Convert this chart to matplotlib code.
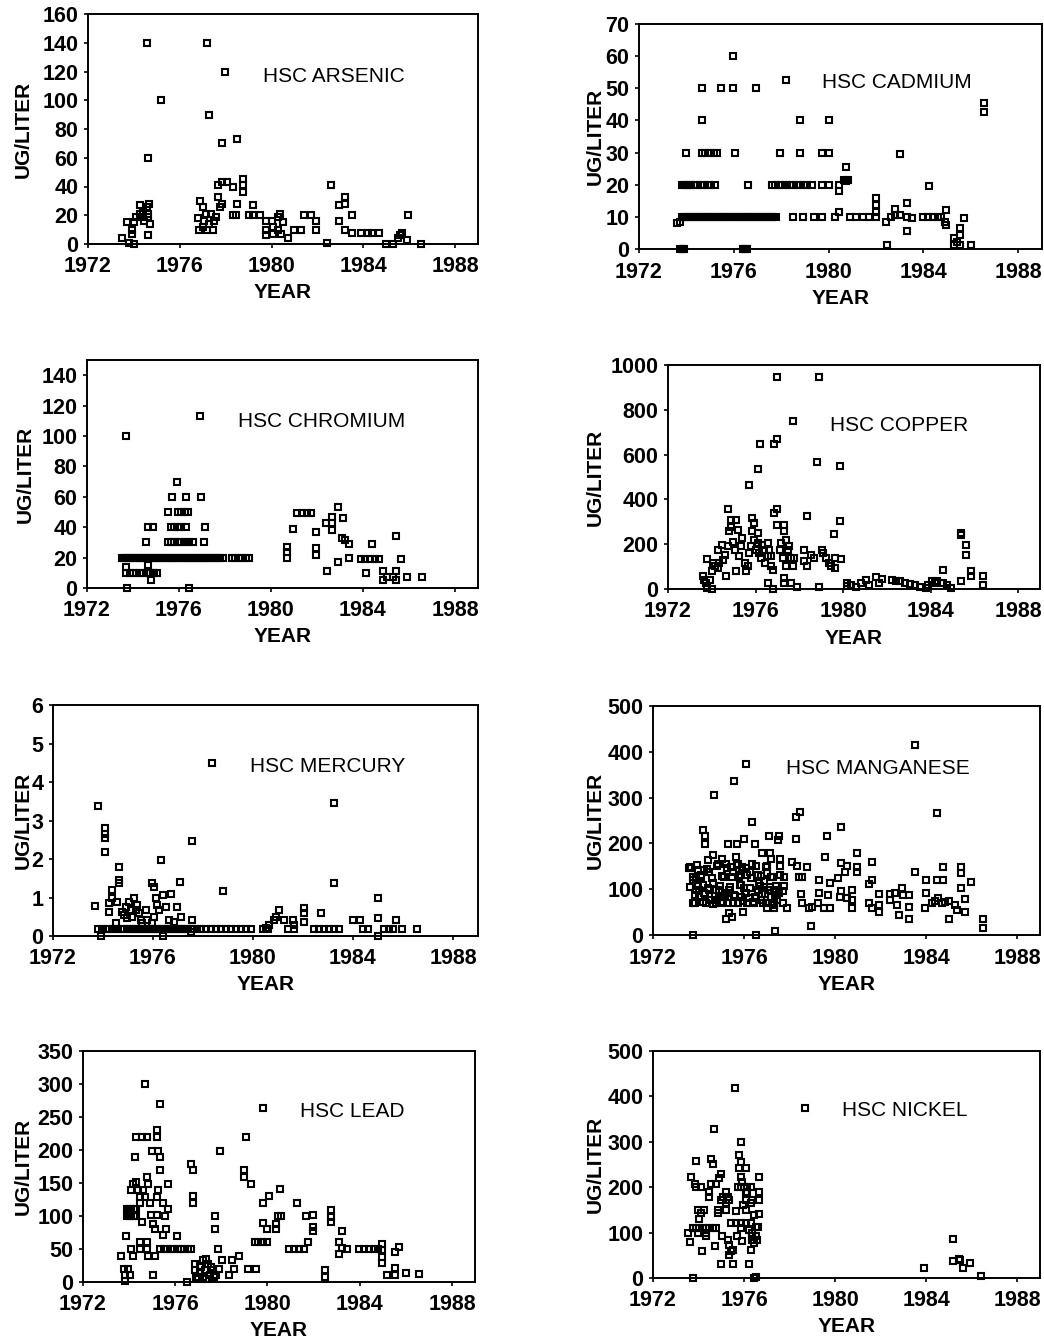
import matplotlib
matplotlib.use("Agg")
import matplotlib.pyplot as plt

plt.rcParams['font.family'] = ['Liberation Sans', 'DejaVu Sans']

# ---------------- data (year, ug/liter) ----------------
ars_year = [1974.55, 1974.6, 1975.2, 1974.6, 1973.5, 1973.7, 1973.9, 1974.0, 1973.8, 1973.9, 1974.0, 1974.25, 1974.3,
            1974.4, 1974.55, 1974.65, 1974.6, 1974.7, 1974.45, 1974.1, 1974.25, 1974.6,
            1977.2, 1977.27, 1977.95, 1977.85, 1978.5,
            1976.8, 1976.85, 1976.9, 1977.0, 1977.0, 1977.05, 1977.15, 1977.2, 1977.27, 1977.35,
            1977.45, 1977.5, 1977.6, 1977.65, 1977.75, 1977.85, 1977.65, 1977.85, 1978.05, 1978.3,
            1978.5, 1978.3, 1978.45, 1978.75, 1978.75, 1978.75, 1979.0, 1979.2, 1979.2, 1979.5,
            1979.75, 1979.75, 1979.75, 1980.0, 1980.05, 1980.05, 1980.3, 1980.35, 1980.5, 1980.4,
            1980.3, 1980.7, 1981.0, 1981.3, 1981.4, 1981.7, 1981.95, 1981.95, 1982.4, 1982.6,
            1982.95, 1983.2, 1983.2, 1982.95, 1983.2, 1983.5, 1983.5, 1983.9, 1984.2, 1984.4,
            1984.7, 1985.0, 1985.3, 1985.5, 1985.6, 1985.7, 1985.9, 1985.95, 1986.5]
ars_ugl = [140, 60, 100, 6.5, 4, 15, 10, 0, 1, 7, 15, 27, 19,
           22, 26, 28, 19, 14, 16, 19, 21, 21,
           140, 90, 120, 70, 73,
           18, 10, 30, 26, 12, 16, 21, 10, 14, 21,
           10, 16, 19, 33, 26, 28, 41, 43, 43, 40,
           28, 20, 20, 45, 41, 36, 20, 27, 20, 20,
           16, 10, 6, 16, 12, 7, 19, 21, 15, 7,
           10, 4, 10, 10, 20, 20, 16, 10, 1, 41,
           27, 33, 28, 16, 10, 20, 8, 8, 8, 8,
           8, 0, 0, 4, 6, 8, 3, 20, 0]

cad_year = [1973.75, 1973.8, 1973.85, 1973.9, 1976.4, 1976.45, 1976.5, 1976.55,
            1973.6, 1973.75,
            1973.8, 1973.9, 1974.0, 1974.1, 1974.2, 1974.3, 1974.4, 1974.5, 1974.6, 1974.7,
            1974.8, 1974.9, 1975.0, 1975.1, 1975.2, 1975.3, 1975.4, 1975.5, 1975.6, 1975.7,
            1975.8, 1975.9, 1976.0, 1976.1, 1976.2, 1976.3, 1976.4, 1976.5, 1976.6, 1976.7,
            1976.8, 1976.9, 1977.0, 1977.1, 1977.2, 1977.3, 1977.4, 1977.5, 1977.6, 1977.7, 1977.8,
            1978.5, 1978.9, 1979.4, 1979.7, 1980.25, 1980.45, 1980.9, 1981.15, 1981.45, 1981.7,
            1982.4, 1982.65, 1982.8, 1982.8, 1983.0, 1983.3, 1983.5, 1984.0, 1984.2, 1984.4,
            1984.6, 1984.75, 1984.9, 1984.95, 1984.95, 1982.0, 1982.0, 1982.0, 1982.0, 1983.3,
            1983.3, 1982.45,
            1973.8, 1973.9, 1974.0, 1974.1, 1974.2, 1974.3, 1974.45, 1974.6, 1974.75, 1974.9,
            1975.05, 1975.2, 1976.6,
            1977.6, 1977.75, 1977.9, 1978.05, 1978.2, 1978.35, 1978.5, 1978.65, 1978.8, 1978.95,
            1979.1, 1979.3, 1979.7, 1980.0, 1980.45, 1980.45, 1980.65, 1980.75, 1980.8, 1980.75, 1984.25,
            1974.0, 1974.65, 1974.8, 1974.95, 1975.15, 1975.3, 1976.05, 1977.95, 1978.8, 1979.7,
            1980.0, 1983.0,
            1974.65, 1978.8, 1980.0,
            1974.65, 1975.45, 1975.97, 1976.95, 1978.2,
            1975.97, 1986.55, 1986.55,
            1985.3, 1985.3, 1985.55, 1985.55, 1985.55, 1985.7, 1986.0, 1985.4]
cad_ugl = [0, 0, 0, 0, 0, 0, 0, 0,
           8, 8.5,
           10, 10, 10, 10, 10, 10, 10, 10, 10, 10,
           10, 10, 10, 10, 10, 10, 10, 10, 10, 10,
           10, 10, 10, 10, 10, 10, 10, 10, 10, 10,
           10, 10, 10, 10, 10, 10, 10, 10, 10, 10, 10,
           10, 10, 10, 10, 10, 11.6, 10, 10, 10, 10,
           8.5, 10, 12.5, 10.5, 10.5, 10, 9.5, 10, 10, 10,
           10, 10, 8.5, 7.5, 12, 15.8, 13.7, 11.6, 10, 14.4,
           5.6, 1.2,
           20, 20, 20, 20, 20, 20, 20, 20, 20, 20,
           20, 20, 20,
           20, 20, 20, 20, 20, 20, 20, 20, 20, 20,
           20, 20, 20, 20, 20, 18, 21.5, 21, 21.5, 25.6, 19.6,
           30, 30, 30, 30, 30, 30, 30, 30, 30, 30,
           30, 29.5,
           40, 40, 40,
           50, 50, 50, 50, 52.5,
           60, 45.5, 42.7,
           3.3, 1.2, 6.4, 4.4, 1.2, 9.5, 1.2, 2.3]

chr_year = [1973.7, 1976.9, 1973.75, 1976.43,
            1973.5, 1973.6, 1973.7, 1973.8, 1973.9, 1974.0, 1974.1, 1974.2, 1974.3, 1974.4,
            1974.5, 1974.6, 1974.7, 1974.8, 1974.9, 1975.0, 1975.1, 1975.2, 1975.3, 1975.4,
            1975.5, 1975.6, 1975.7, 1975.8, 1975.9, 1976.0, 1976.1, 1976.2, 1976.3, 1976.4,
            1976.5, 1976.6, 1976.7, 1976.8, 1976.9, 1977.0, 1977.1, 1977.2, 1977.3, 1977.4,
            1977.5, 1977.6, 1977.7, 1977.8, 1977.9, 1978.3, 1978.45, 1978.6, 1978.75, 1978.9, 1979.05,
            1973.7, 1973.85, 1974.0, 1974.15, 1974.3, 1974.45, 1974.6, 1974.75, 1974.9, 1975.05,
            1973.7, 1974.65, 1974.8, 1974.85,
            1974.58, 1975.5, 1975.65, 1975.8, 1975.95, 1976.1, 1976.25, 1976.45, 1976.6, 1977.1,
            1974.65, 1974.85, 1975.65, 1975.8, 1975.95, 1976.1, 1976.3, 1977.15,
            1975.5, 1975.95, 1976.1, 1976.25, 1976.4,
            1975.7, 1976.3, 1976.95, 1975.9,
            1980.7, 1980.7, 1980.7, 1980.95, 1981.15, 1981.35, 1981.55, 1981.75, 1981.95, 1981.95,
            1981.95, 1982.45, 1982.4, 1982.65, 1982.65, 1982.65, 1982.93, 1982.93, 1983.15, 1983.1,
            1983.2, 1983.4, 1983.4, 1983.9, 1984.1, 1984.3, 1984.5, 1984.7, 1984.15, 1984.4,
            1984.85, 1984.85, 1985.05, 1985.3, 1985.45, 1985.45, 1985.45, 1985.65, 1985.9, 1986.55]
chr_ugl = [100, 113, 0, 0,
           20, 20, 20, 20, 20, 20, 20, 20, 20, 20,
           20, 20, 20, 20, 20, 20, 20, 20, 20, 20,
           20, 20, 20, 20, 20, 20, 20, 20, 20, 20,
           20, 20, 20, 20, 20, 20, 20, 20, 20, 20,
           20, 20, 20, 20, 20, 20, 20, 20, 20, 20, 20,
           10, 10, 10, 10, 10, 10, 10, 10, 10, 10,
           14, 15, 5, 10,
           30, 30, 30, 30, 30, 30, 30, 30, 30, 30,
           40, 40, 40, 40, 40, 40, 40, 40,
           50, 50, 50, 50, 50,
           60, 60, 60, 70,
           27, 24, 19.5, 39, 49.5, 49.5, 49.5, 49.5, 37, 26,
           22, 11, 42.5, 47, 38, 42.5, 53.5, 17, 46, 32.6,
           31.5, 29, 19.5, 19, 19, 19, 19, 19, 9.6, 29,
           11, 5, 7.5, 7.5, 11, 5, 34, 19, 7.5, 7.5]

cop_year = [1977.0, 1978.9, 1977.7, 1976.2, 1976.85, 1977.0, 1976.1, 1975.7, 1978.8, 1979.85,
            1979.85, 1979.6, 1978.35, 1974.75, 1977.0, 1976.85, 1985.4, 1985.4, 1985.6, 1985.6,
            1985.85, 1985.85, 1986.4, 1986.4, 1985.4, 1984.55,
            1973.6, 1973.65, 1973.75, 1973.8, 1974.0, 1973.9, 1973.8, 1974.0, 1974.05, 1974.15,
            1974.3, 1974.35, 1974.3, 1974.45, 1974.5, 1974.6, 1974.65, 1974.75, 1974.8, 1974.9,
            1974.9, 1974.95, 1975.05, 1975.1, 1975.2, 1975.1, 1975.25, 1975.35, 1975.4, 1975.5,
            1975.55, 1975.65, 1975.7, 1975.8, 1975.85, 1975.95, 1975.85, 1975.95, 1976.0, 1976.1,
            1976.1, 1976.15, 1976.25, 1976.3, 1976.4, 1976.45, 1976.55, 1976.55, 1976.6, 1976.7,
            1976.8, 1976.7, 1976.55, 1976.8, 1977.0, 1977.1, 1977.15, 1977.25, 1977.3, 1977.3,
            1977.4, 1977.4, 1977.5, 1977.55, 1977.6, 1977.7, 1977.75, 1977.3, 1977.3, 1977.6,
            1977.9, 1978.2, 1978.2, 1978.35, 1978.55, 1978.65, 1978.9, 1979.05, 1979.1, 1979.2,
            1979.35, 1979.45, 1979.65, 1979.9, 1979.65, 1980.2, 1980.2, 1980.35, 1980.6, 1980.8,
            1981.05, 1981.2, 1981.5, 1981.65, 1981.8, 1982.25, 1982.4, 1982.6, 1982.85, 1983.05,
            1983.3, 1983.5, 1983.8, 1983.9, 1984.05, 1984.2, 1984.3, 1984.55, 1984.75, 1984.95]
cop_ugl = [948, 945, 750, 646, 646, 668, 536, 465, 565, 547,
           305, 247, 327, 357, 357, 340, 250, 242, 195, 153,
           79, 56, 59, 19, 37, 86,
           56, 42, 27, 4, 0, 42, 134, 79, 116, 101,
           94, 116, 175, 198, 131, 153, 56, 190, 257, 309,
           279, 212, 175, 309, 264, 79, 146, 190, 227, 116,
           79, 101, 160, 190, 316, 294, 257, 220, 175, 250,
           205, 160, 138, 198, 175, 116, 205, 146, 175, 101,
           86, 146, 27, 0, 286, 175, 205, 138, 286, 257,
           220, 101, 175, 190, 138, 101, 138, 49, 27, 27,
           9, 175, 123, 101, 153, 138, 7, 175, 160, 138,
           116, 101, 138, 134, 94, 27, 12, 19, 9, 27,
           39, 19, 53, 27, 45, 42, 34, 34, 27, 24,
           19, 9, 4, 19, 34, 27, 34, 27, 19, 4]

mer_year = [1978.35, 1983.25, 1983.25, 1973.8, 1974.07, 1974.07, 1974.07, 1974.07, 1977.57, 1976.3,
            1978.8, 1973.67, 1974.63, 1974.63, 1974.63, 1974.37, 1974.23, 1974.23, 1974.37, 1974.57,
            1975.97, 1976.03, 1977.07, 1976.7, 1976.4, 1976.53, 1976.97, 1976.1, 1976.17, 1976.23,
            1976.03, 1975.97, 1977.1, 1976.83, 1976.63, 1977.57, 1974.77, 1974.9, 1975.03, 1975.1,
            1975.23, 1975.17, 1975.3, 1975.37, 1975.43, 1975.5, 1975.7, 1975.77, 1975.57, 1974.97,
            1974.83, 1974.5, 1982.72, 1982.05, 1982.05, 1982.05, 1981.05, 1980.92, 1980.85, 1980.65,
            1980.52, 1981.25, 1981.58, 1981.65, 1984.0, 1984.27, 1985.0, 1985.0, 1985.0, 1985.73,
            1973.9, 1976.4, 1977.5,
            1973.8, 1973.95, 1974.1, 1974.25, 1974.4, 1974.55, 1974.7, 1974.85, 1975.0, 1975.1,
            1975.2, 1975.3, 1975.4, 1975.5, 1975.6, 1975.7, 1975.8, 1975.9, 1976.0, 1976.1,
            1976.2, 1976.3, 1976.4, 1976.5, 1976.6, 1976.7, 1976.8, 1976.9, 1977.0, 1977.1,
            1977.2, 1977.3, 1977.4, 1977.5, 1977.6, 1977.75, 1977.9, 1978.1, 1978.3, 1978.5,
            1978.7, 1978.9, 1979.1, 1979.3, 1979.5, 1979.7, 1979.9, 1980.4, 1980.6, 1981.4,
            1981.65, 1982.45, 1982.65, 1982.85, 1983.05, 1983.25, 1983.45, 1984.4, 1984.6, 1985.25,
            1985.45, 1985.6, 1985.95, 1986.55]
mer_ugl = [4.5, 3.46, 1.37, 3.38, 2.8, 2.65, 2.54, 2.17, 2.48, 1.97,
           1.17, 0.78, 1.78, 1.45, 1.37, 1.19, 0.85, 0.63, 0.98, 0.89,
           1.37, 1.26, 1.39, 1.09, 1.06, 0.76, 0.76, 0.98, 0.8, 0.68,
           0.5, 0.33, 0.5, 0.37, 0.42, 0.42, 0.63, 0.76, 0.89, 0.68,
           0.98, 0.5, 0.68, 0.8, 0.59, 0.42, 0.68, 0.42, 0.33, 0.46,
           0.55, 0.33, 0.59, 0.72, 0.59, 0.37, 0.68, 0.5, 0.42, 0.29,
           0.2, 0.42, 0.42, 0.29, 0.42, 0.42, 0.98, 0.48, 0, 0.42,
           0, 0, 0.11,
           0.18, 0.18, 0.18, 0.18, 0.18, 0.18, 0.18, 0.18, 0.18, 0.18,
           0.18, 0.18, 0.18, 0.18, 0.18, 0.18, 0.18, 0.18, 0.18, 0.18,
           0.18, 0.18, 0.18, 0.18, 0.18, 0.18, 0.18, 0.18, 0.18, 0.18,
           0.18, 0.18, 0.18, 0.18, 0.18, 0.18, 0.18, 0.18, 0.18, 0.18,
           0.18, 0.18, 0.18, 0.18, 0.18, 0.18, 0.18, 0.18, 0.18, 0.18,
           0.18, 0.18, 0.18, 0.18, 0.18, 0.18, 0.18, 0.18, 0.18, 0.18,
           0.18, 0.18, 0.18, 0.18]

man_year = [1983.5, 1984.47, 1976.08, 1975.54, 1974.7, 1976.37, 1976.5, 1976.0, 1975.7, 1975.28,
            1977.1, 1977.54, 1977.47, 1978.27, 1978.46, 1978.27, 1979.65, 1980.28, 1974.2, 1974.27,
            1974.27, 1978.92, 1977.36, 1973.75, 1976.52, 1986.5, 1986.5, 1985.0, 1985.95, 1985.55,
            1985.55, 1985.55, 1985.7, 1985.7, 1985.34, 1985.27, 1985.0, 1984.83, 1984.7, 1984.54,
            1984.4, 1984.24, 1983.95, 1984.0, 1984.0, 1984.47, 1984.73, 1984.73, 1983.5, 1983.23,
            1983.23, 1982.8, 1982.72, 1982.65, 1982.94, 1983.0, 1983.23, 1982.43, 1982.43, 1981.92,
            1981.92, 1981.92, 1981.62, 1981.47, 1981.47, 1981.62, 1981.62, 1980.97, 1980.97, 1980.97,
            1980.72, 1980.72, 1980.72, 1980.5, 1980.28, 1980.2, 1980.13, 1980.28, 1980.5, 1980.43,
            1979.78, 1979.7, 1979.78, 1979.5, 1979.55, 1979.3, 1979.3, 1979.26, 1979.0, 1978.85,
            1978.56, 1978.5, 1978.56, 1978.42, 1978.78, 1978.34, 1978.12, 1977.9, 1977.73, 1977.7,
            1977.76, 1977.58, 1977.58, 1977.76, 1977.3, 1977.3, 1977.45, 1977.52, 1977.4, 1977.18,
            1977.13, 1977.0, 1976.99, 1976.81, 1976.81, 1976.74, 1976.66, 1976.6, 1976.52, 1976.37,
            1976.26, 1976.15, 1976.08, 1975.96, 1975.86, 1975.79, 1975.64, 1975.72, 1975.5, 1975.43,
            1975.47, 1975.35, 1975.2, 1975.2, 1975.13, 1975.03, 1974.99, 1974.92, 1974.78, 1974.62,
            1974.62, 1974.48, 1974.41, 1974.33, 1974.26, 1974.19, 1974.11, 1974.04, 1973.97, 1973.9,
            1973.83, 1973.75, 1973.68, 1973.57, 1973.9, 1974.26, 1974.48, 1974.55, 1974.78, 1974.92,
            1975.06, 1975.28, 1975.35, 1975.57, 1975.72, 1975.86, 1976.0, 1976.22, 1976.44, 1976.6,
            1976.88, 1976.96, 1977.04, 1977.18, 1977.25, 1977.33, 1977.4, 1977.6, 1977.0, 1976.15,
            1975.93, 1975.2, 1974.85, 1974.04,
            1973.62, 1973.92, 1974.36, 1974.79, 1975.23, 1975.67, 1976.1, 1976.54, 1976.98,
            1973.77, 1974.13, 1974.57, 1975.01, 1975.45, 1975.88, 1976.32, 1976.76, 1977.19,
            1973.62, 1973.99, 1974.43, 1974.93, 1975.37, 1975.81, 1976.25, 1976.68, 1977.12,
            1973.84, 1974.28, 1974.72, 1975.16, 1975.59, 1976.03, 1976.47, 1976.9, 1977.34,
            1973.77, 1974.21, 1974.65, 1975.08, 1975.52, 1975.96, 1976.39, 1976.83]
man_ugl = [415, 267, 373, 337, 306, 247, 199, 210, 199, 199,
           217, 217, 207, 257, 268, 210, 217, 235, 229, 217,
           199, 20, 9, 0, 0, 36, 16, 35, 115, 149,
           136, 102, 78, 51, 55, 66, 75, 73, 69, 80,
           75, 69, 58, 91, 119, 119, 119, 149, 138, 62,
           36, 44, 66, 91, 102, 87, 87, 90, 76, 90,
           66, 51, 58, 69, 111, 120, 159, 178, 149, 138,
           98, 76, 58, 80, 95, 84, 124, 158, 151, 138,
           113, 87, 58, 58, 170, 119, 91, 69, 62, 58,
           69, 90, 127, 127, 149, 151, 160, 58, 69, 95,
           106, 151, 167, 127, 66, 58, 76, 91, 106, 167,
           178, 151, 58, 178, 90, 76, 113, 131, 80, 156,
           138, 69, 91, 51, 109, 127, 171, 156, 138, 149,
           40, 47, 36, 91, 127, 167, 69, 84, 98, 113,
           175, 138, 164, 69, 91, 109, 127, 84, 142, 98,
           69, 120, 146, 146, 124, 142, 98, 76, 69, 98,
           84, 69, 98, 87, 69, 84, 102, 80, 69, 98,
           117, 69, 98, 84, 127, 69, 98, 131, 135, 131,
           149, 156, 156, 98,
           148, 152, 145, 150, 147, 153, 146, 150, 149,
           127, 130, 124, 128, 126, 131, 125, 129, 127,
           105, 108, 102, 106, 104, 109, 103, 107, 105,
           87, 90, 85, 88, 86, 91, 84, 89, 87,
           70, 73, 68, 71, 69, 74, 72, 70]

lead_year = [1974.69, 1975.34, 1979.8, 1979.08, 1977.93, 1976.7, 1976.78, 1976.78, 1976.78, 1977.71,
             1977.71, 1977.86, 1979.0, 1979.0, 1979.3, 1979.8, 1980.06, 1980.56, 1980.45, 1980.6,
             1979.8, 1980.0, 1980.37, 1980.37, 1981.28, 1981.67, 1981.96, 1981.99, 1981.99, 1980.95,
             1981.15, 1981.35, 1981.6, 1981.74, 1982.74, 1982.74, 1982.74, 1983.22, 1983.1, 1983.1,
             1983.22, 1983.47, 1982.49, 1982.49, 1983.97, 1984.19, 1984.4, 1984.62, 1984.8, 1984.98,
             1984.98, 1984.98, 1984.98, 1985.2, 1985.55, 1985.7, 1985.55, 1985.55, 1985.99, 1986.59,
             1979.15, 1979.5, 1979.44, 1979.6, 1979.8, 1980.0, 1978.76, 1978.47, 1978.55, 1978.32,
             1978.03, 1977.89, 1976.49,
             1976.85, 1976.85, 1976.92, 1977.0, 1977.06, 1977.13, 1977.2, 1977.27, 1977.35, 1977.42,
             1977.35, 1977.5, 1977.63, 1977.7, 1977.78, 1977.56, 1977.06, 1977.2,
             1973.64, 1973.76, 1973.83, 1973.83, 1973.97, 1974.04, 1973.87, 1974.1, 1974.17, 1974.25,
             1974.07, 1974.17, 1974.3, 1973.9, 1974.0, 1974.1, 1974.2, 1974.3, 1973.9, 1974.0,
             1974.1, 1974.2, 1974.3, 1974.3, 1974.55, 1974.76, 1974.47, 1974.47, 1974.4, 1974.6,
             1974.68, 1974.76, 1974.82, 1974.55, 1974.47, 1974.47, 1974.76, 1974.82, 1975.12, 1974.9,
             1974.97, 1975.04, 1975.12, 1975.19, 1975.19, 1975.26, 1975.19, 1975.19, 1974.99, 1975.26,
             1975.34, 1975.34, 1975.48, 1975.55, 1975.7, 1975.48, 1975.62, 1975.7, 1976.06, 1975.05,
             1974.76,
             1975.34, 1975.5, 1975.65, 1975.8, 1975.95, 1976.1, 1976.25, 1976.4, 1976.55, 1976.7]
lead_ugl = [300, 269, 264, 220, 198, 179, 169, 130, 119, 100,
            80, 50, 169, 159, 149, 119, 130, 141, 100, 100,
            90, 81, 80, 88, 119, 100, 102, 83, 78, 50,
            50, 50, 50, 61, 109, 98, 91, 78, 61, 42,
            52, 50, 18, 8, 50, 50, 50, 50, 50, 58,
            49, 38, 29, 11, 45, 53, 21, 11, 13, 12,
            20, 20, 61, 61, 61, 61, 40, 33, 20, 10,
            33, 20, 0,
            28, 18, 8, 4, 13, 23, 8, 18, 35, 28,
            5, 10, 18, 8, 10, 23, 25, 33,
            39, 20, 10, 1.5, 20, 10, 70, 50, 39, 189,
            139, 149, 151, 100, 100, 100, 100, 100, 110, 110,
            110, 110, 110, 220, 220, 220, 119, 129, 139, 139,
            129, 159, 149, 91, 61, 50, 61, 39, 39, 119,
            101, 88, 81, 101, 129, 139, 230, 220, 198, 198,
            189, 169, 119, 100, 111, 71, 80, 149, 70, 10,
            50,
            50, 50, 50, 50, 50, 50, 50, 50, 50, 50]

nic_year = [1975.6, 1974.67, 1978.66, 1975.86, 1973.9, 1973.68, 1973.83, 1973.9, 1974.11, 1974.55,
            1974.62, 1974.99, 1974.91, 1974.55, 1974.48, 1974.48, 1974.77, 1973.97, 1974.11, 1974.26,
            1974.04, 1973.53, 1973.63, 1974.14, 1973.75, 1973.9, 1974.04, 1974.19, 1974.33, 1974.48,
            1974.62, 1974.77, 1973.97, 1974.33, 1974.33, 1974.74, 1974.84, 1974.84, 1974.99, 1975.09,
            1975.2, 1975.28, 1975.35, 1975.2, 1975.2, 1975.03, 1974.99, 1975.5, 1976.2, 1975.28,
            1975.35, 1975.43, 1975.5, 1975.35, 1975.43, 1975.65, 1975.86, 1976.08, 1976.3, 1975.67,
            1975.65, 1975.86, 1975.9, 1975.79, 1975.86, 1975.79, 1976.08, 1975.86, 1975.93, 1975.72,
            1975.86, 1976.0, 1976.15, 1976.08, 1976.08, 1975.96, 1976.08, 1976.3, 1976.15, 1976.3,
            1976.37, 1976.44, 1976.52, 1976.23, 1976.37, 1976.37, 1976.3, 1976.44, 1976.37, 1976.59,
            1976.66, 1976.66, 1976.66, 1976.64, 1976.62, 1976.52, 1973.75, 1976.44, 1976.52, 1983.92,
            1985.19, 1985.19, 1985.48, 1985.63, 1985.44, 1985.92, 1986.43]
nic_ugl = [419, 328, 375, 300, 258, 222, 207, 200, 200, 262,
           251, 229, 220, 207, 189, 179, 207, 150, 144, 150,
           130, 100, 79, 60, 110, 110, 110, 110, 110, 110,
           110, 110, 100, 100, 92, 71, 144, 150, 172, 179,
           190, 179, 172, 165, 149, 92, 31, 31, 31, 84,
           73, 59, 62, 51, 121, 121, 121, 121, 121, 92,
           147, 110, 81, 271, 256, 242, 242, 223, 212, 201,
           201, 201, 201, 187, 171, 161, 150, 201, 190, 165,
           172, 139, 112, 106, 100, 92, 62, 77, 83, 83,
           222, 190, 172, 141, 112, 92, 0, 0, 2, 22,
           86, 37, 40, 23, 42, 34, 4]

# ---------------- panel layout (pixel boxes of the reference) ----------------
panels = [
    dict(x=ars_year, y=ars_ugl, title="HSC ARSENIC", box=(88, 14, 478, 244), ymax=160, ystep=20,
         tpos=(0.63, 0.73), ylab=65),
    dict(x=cad_year, y=cad_ugl, title="HSC CADMIUM", box=(639, 24, 1042, 249), ymax=70, ystep=10,
         tpos=(0.64, 0.74), ylab=44),
    dict(x=chr_year, y=chr_ugl, title="HSC CHROMIUM", box=(87, 360, 478, 588), ymax=150, ystep=20,
         tpos=(0.60, 0.73), ylab=62, ytop=140),
    dict(x=cop_year, y=cop_ugl, title="HSC COPPER", box=(668, 365, 1040, 589), ymax=1000, ystep=200,
         tpos=(0.62, 0.73), ylab=73),
    dict(x=mer_year, y=mer_ugl, title="HSC MERCURY", box=(53, 705, 478, 936), ymax=6, ystep=1,
         tpos=(0.645, 0.735), ylab=30),
    dict(x=man_year, y=man_ugl, title="HSC MANGANESE", box=(653, 706, 1040, 935), ymax=500, ystep=100,
         tpos=(0.58, 0.725), ylab=58),
    dict(x=lead_year, y=lead_ugl, title="HSC LEAD", box=(83, 1051, 475, 1282), ymax=350, ystep=50,
         tpos=(0.686, 0.74), ylab=60),
    dict(x=nic_year, y=nic_ugl, title="HSC NICKEL", box=(653, 1051, 1040, 1278), ymax=500, ystep=100,
         tpos=(0.65, 0.736), ylab=58),
]
year_ticks = [1972, 1976, 1980, 1984, 1988]

W, H = 1044, 1342
fig = plt.figure(figsize=(W / 100, H / 100), dpi=100)

for p in panels:
    x0, y0, x1, y1 = p['box']
    ax = fig.add_axes([x0 / W, 1 - y1 / H, (x1 - x0) / W, (y1 - y0) / H])
    ax.plot(p['x'], p['y'], 's', mfc='none', mec='black', ms=3.7, mew=1.5, clip_on=False, zorder=3)
    ax.set_xlim(1972, 1989)
    ax.set_ylim(0, p['ymax'])
    ax.set_xticks(year_ticks)
    ax.set_xticklabels([str(t) for t in year_ticks])
    ytop = p.get('ytop', p['ymax'])
    yt = []
    v = 0
    while v <= ytop + 1e-9:
        yt.append(v)
        v += p['ystep']
    ax.set_yticks(yt)
    ax.set_yticklabels([f"{t:g}" for t in yt])
    for s in ax.spines.values():
        s.set_linewidth(1.4)
    ax.tick_params(axis='both', direction='out', length=3, width=1.2, labelsize=15.5)
    ax.tick_params(axis='x', pad=6)
    ax.tick_params(axis='y', pad=4)
    for lab in ax.get_xticklabels() + ax.get_yticklabels():
        lab.set_fontweight('bold')
    ax.text(p['tpos'][0], p['tpos'][1], p['title'], transform=ax.transAxes, ha='center', va='center',
            fontsize=15, fontweight='normal')
    # y label
    fig.text((x0 - p['ylab']) / W, 1 - ((y0 + y1) / 2) / H, "UG/LITER", rotation=90, ha='center',
             va='center', fontsize=15, fontweight='bold')
    # x label
    fig.text(((x0 + x1) / 2) / W, 1 - (y1 + 49) / H, "YEAR", ha='center', va='center',
             fontsize=15, fontweight='bold')

fig.savefig("out.png", dpi=100)
